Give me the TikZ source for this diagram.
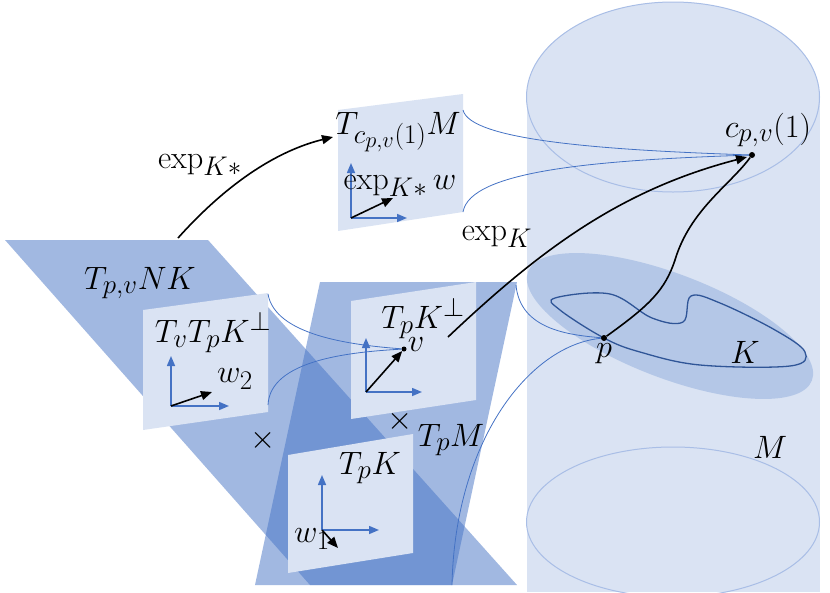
\documentclass[tikz,border=0pt]{standalone}
\usetikzlibrary{arrows.meta}
\definecolor{bA}{HTML}{4472C4}
\definecolor{bL}{HTML}{DAE3F3}
\definecolor{bK}{HTML}{B4C7E7}
\definecolor{bE}{HTML}{A9BEE6}
\definecolor{bD}{HTML}{2F5597}
\tikzset{
 small/.style={fill=bL,draw=none},
 big/.style={fill=bA,fill opacity=0.5,draw=none},
 ax/.style={bA,line width=1.5pt,-{Triangle[length=10pt,width=8pt]}},
 vec/.style={black,line width=1.6pt,-{Triangle[length=11pt,width=9pt]}},
 con/.style={bA,line width=0.8pt},
 lab/.style={inner sep=1pt,scale=1.3},
 dot/.style={circle,fill=black,inner sep=0pt,minimum size=6pt}
}
\begin{document}
\begin{tikzpicture}[x=1pt,y=-1pt,font=\fontsize{24.88}{30}\selectfont]
\useasboundingbox (0,0) rectangle (830,592);
% cylinder
\fill[bL] (527,97) rectangle (820,592);
\fill[bL] (673,97) ellipse[x radius=146.5,y radius=95];
\draw[bE,line width=1pt] (673,97) ellipse[x radius=146.5,y radius=95];
\begin{scope}
\clip (0,0) rectangle (830,592);
\draw[bE,line width=1pt] (673,522) ellipse[x radius=146.5,y radius=75];
\end{scope}
\fill[bK] (670,326) ellipse[x radius=152,y radius=52,rotate=-21];
\draw[bD,line width=1.3pt] plot[smooth cycle,tension=0.6] coordinates{(555,298)(610,294)(652,318)(683,322)(691,296)(720,303)(775,330)(805,352)(790,366)(700,365)(640,352)(604,338)(560,310)};
% big planes
\fill[big] (5,240) -- (208,240) -- (517,585) -- (310,585) -- cycle;
\fill[big] (320,282) -- (517,282) -- (452,585) -- (255,585) -- cycle;
% small planes
\fill[small] (143,310) -- (268,293) -- (268,412) -- (143,430) -- cycle;
\fill[small] (351,301) -- (476,282) -- (476,400) -- (351,419) -- cycle;
\fill[small] (288,455) -- (413,434) -- (413,553) -- (288,573) -- cycle;
\fill[small] (338,110) -- (463,94) -- (463,212) -- (338,231) -- cycle;
% named points
\node[dot] (c) at (752,155) {};
\node[dot] (p) at (604,338) {};
\node[circle,fill=black,inner sep=0pt,minimum size=5pt] (v) at (404,349) {};
\coordinate (o1) at (171,406); \coordinate (o2) at (366,392);
\coordinate (o3) at (322,530); \coordinate (o4) at (351,218);
% axes
\draw[ax] (o1) -- ++(0,-50); \draw[ax] (o1) -- ++(58,0);
\draw[ax] (o2) -- ++(0,-54); \draw[ax] (o2) -- ++(56,0);
\draw[ax] (o3) -- ++(0,-55); \draw[ax] (o3) -- ++(57,0);
\draw[ax] (o4) -- ++(0,-55); \draw[ax] (o4) -- ++(56,0);
\draw[vec] (o1) -- (212,392);
\draw[vec] (o2) -- (v);
\draw[vec] (o3) -- (338,548);
\draw[vec] (o4) -- (393,198);
% connectors
\coordinate (a1) at (463,110); \coordinate (a2) at (463,212);
\coordinate (a3) at (268,294); \coordinate (a4) at (268,405);
\coordinate (a5) at (516,285); \coordinate (a6) at (452,585);
\draw[con] (a1) .. controls (470,140) and (600,150) .. (c);
\draw[con] (a2) .. controls (470,170) and (600,160) .. (c);
\draw[con] (a3) .. controls (275,335) and (350,345) .. (v);
\draw[con] (a4) .. controls (270,360) and (350,352) .. (v);
\draw[con] (a5) .. controls (520,330) and (570,335) .. (p);
\draw[con] (a6) .. controls (455,440) and (530,345) .. (p);
% black curves
\coordinate (s1) at (178,238); \coordinate (e1) at (333,137);
\draw[vec] (s1) .. controls (230,180) and (280,150) .. (e1);
\coordinate (s2) at (448,337);
\draw[vec] (s2) .. controls (540,250) and (620,190) .. (747,157);
\draw[line width=1.6pt] (p) .. controls (650,305) and (665,290) .. (675,260) .. controls (690,210) and (730,185) .. (c);
% labels
\node[lab] (l1) at (398,132) {$T_{c_{p,v}(1)}M$};
\node[lab] (l2) at (200,165) {$\exp_{K*}$};
\node[lab] (l3) at (140,283) {$T_{p,v}NK$};
\node[lab] (l4) at (213,332) {$T_vT_pK^\perp$};
\node[lab] (l5) at (423,318) {$T_pK^\perp$};
\node[lab] (l6) at (451,440) {$T_pM$};
\node[lab] (l7) at (370,468) {$T_pK$};
\node[lab] (l8) at (263,440) {$\times$};
\node[lab] (l9) at (400,421) {$\times$};
\node[lab] (l10) at (497,237) {$\exp_K$};
\node[lab] (l11) at (768,130) {$c_{p,v}(1)$};
\node[lab] (l12) at (604,354) {$p$};
\node[lab] (l13) at (745,352) {$K$};
\node[lab] (l14) at (770,447) {$M$};
\node[lab] (l15) at (235,379) {$w_2$};
\node[lab] (l16) at (416,345) {$v$};
\node[lab] (l17) at (312,539) {$w_1$};
\node[lab] (l18) at (400,186) {$\exp_{K*}w$};
\end{tikzpicture}
\end{document}
